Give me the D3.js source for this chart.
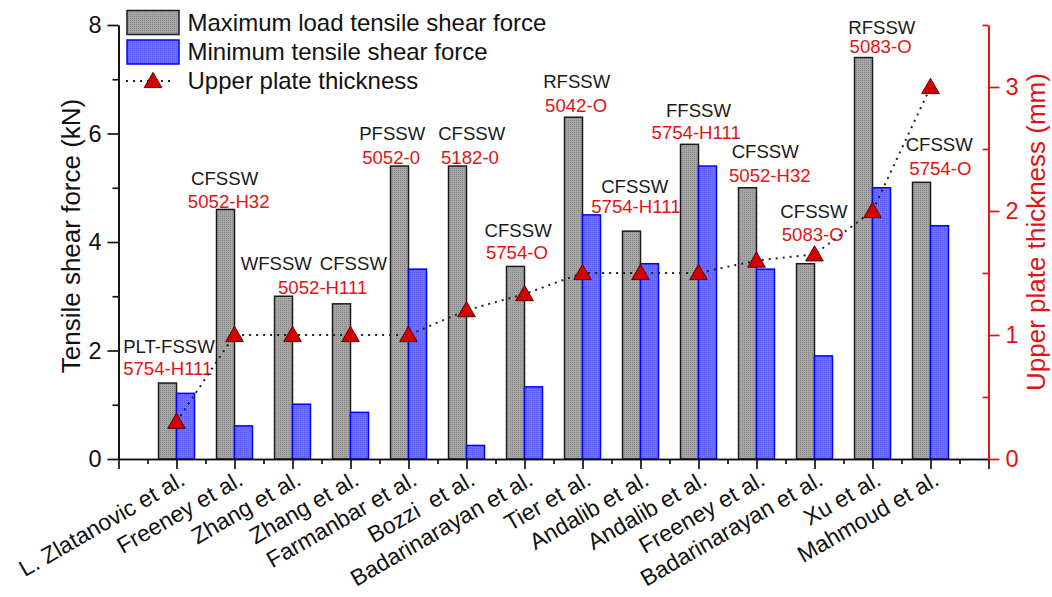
<!DOCTYPE html>
<html>
<head>
<meta charset="utf-8">
<script src="https://cdn.jsdelivr.net/npm/d3@7"></script>
<style>
  html, body { margin: 0; padding: 0; background: #ffffff; }
  svg { display: block; font-family: "Liberation Sans", Arial, Helvetica, sans-serif; }
</style>
</head>
<body>
<svg id="chart" width="1052" height="597"></svg>
<script>
// ---------------- data ----------------
const categories = ["L. Zlatanovic et al.", "Freeney et al.", "Zhang et al.", "Zhang et al.",
  "Farmanbar et al.", "Bozzi  et al.", "Badarinarayan et al.", "Tier et al.", "Andalib et al.",
  "Andalib et al.", "Freeney et al.", "Badarinarayan et al.", "Xu et al.", "Mahmoud et al."];
const maxForce  = [1.40, 4.60, 3.00, 2.86, 5.40, 5.40, 3.55, 6.30, 4.20, 5.80, 5.00, 3.60, 7.40, 5.10];
const minForce  = [1.21, 0.61, 1.01, 0.86, 3.50, 0.25, 1.33, 4.50, 3.60, 5.40, 3.50, 1.90, 5.00, 4.30];
const thickness = [0.30, 1.00, 1.00, 1.00, 1.00, 1.20, 1.33, 1.50, 1.50, 1.50, 1.60, 1.65, 2.00, 3.00];

const leftTicks  = [0, 2, 4, 6, 8];
const rightTicks = [0, 1, 2, 3];
const seriesNames = ["Maximum load tensile shear force", "Minimum tensile shear force", "Upper plate thickness"];
const yTitleLeft  = "Tensile shear force (kN)";
const yTitleRight = "Upper plate thickness (mm)";

// annotation texts, anchored in data space (x: category axis units, y: kN)
const annoText  = ["PLT-FSSW", "5754-H111", "CFSSW", "5052-H32", "WFSSW", "CFSSW", "5052-H111",
  "PFSSW", "5052-0", "CFSSW", "5182-0", "CFSSW", "5754-O", "RFSSW", "5042-O", "CFSSW", "5754-H111",
  "FFSSW", "5754-H111", "CFSSW", "5052-H32", "CFSSW", "5083-O", "RFSSW", "5083-O", "CFSSW", "5754-O"];
const annoKind  = ["m", "a", "m", "a", "m", "m", "a", "m", "a", "m", "a", "m", "a", "m", "a", "m", "a",
  "m", "a", "m", "a", "m", "a", "m", "a", "m", "a"];
const annoX = [0.87, 0.85, 1.83, 1.90, 2.72, 4.05, 3.52, 4.72, 4.70, 6.09, 6.06, 6.89, 6.87, 7.90, 7.89,
  8.90, 8.92, 10.00, 9.96, 11.15, 11.23, 11.99, 11.97, 13.16, 13.14, 14.15, 14.17];
const annoY = [1.96, 1.54, 5.05, 4.63, 3.48, 3.48, 3.04, 5.88, 5.44, 5.88, 5.44, 4.10, 3.68, 6.83, 6.40,
  4.91, 4.54, 6.30, 5.89, 5.55, 5.11, 4.44, 4.02, 7.83, 7.48, 5.68, 5.24];

// ---------------- layout ----------------
const svg = d3.select("#chart");
const RED = "#e01414";
const x  = d3.scaleLinear().domain([0, 15]).range([118.5, 988.5]);
const yL = d3.scaleLinear().domain([0, 8]).range([459, 25]);
const yR = d3.scaleLinear().domain([0, 3.5]).range([459, 25]);
const bw = x(0.31) - x(0);

// patterns to imitate the dotted texture
const defs = svg.append("defs");
function pat(id, base, dot) {
  const p = defs.append("pattern").attr("id", id).attr("patternUnits", "userSpaceOnUse")
    .attr("width", 2).attr("height", 2);
  p.append("rect").attr("width", 2).attr("height", 2).attr("fill", base);
  p.append("rect").attr("width", 1).attr("height", 1).attr("fill", dot);
}
pat("pGray", "#a6a6a6", "#8a8a8a");
pat("pBlue", "#7070ff", "#5656f2");

// ---------------- bars ----------------
const idx = d3.range(categories.length);
svg.append("g").selectAll("rect").data(idx).join("rect")
  .attr("x", i => x(i + 1) - bw).attr("width", bw)
  .attr("y", i => yL(maxForce[i])).attr("height", i => yL(0) - yL(maxForce[i]))
  .attr("fill", "url(#pGray)").attr("stroke", "#1a1a1a").attr("stroke-width", 1.5);
svg.append("g").selectAll("rect").data(idx).join("rect")
  .attr("x", i => x(i + 1)).attr("width", bw)
  .attr("y", i => yL(minForce[i])).attr("height", i => yL(0) - yL(minForce[i]))
  .attr("fill", "url(#pBlue)").attr("stroke", "#0000ff").attr("stroke-width", 1.5);

// ---------------- annotations ----------------
svg.append("g").selectAll("text").data(annoText.map((t, k) => k)).join("text")
  .attr("x", k => x(annoX[k])).attr("y", k => yL(annoY[k]))
  .attr("text-anchor", "middle").attr("font-size", 18.6)
  .attr("fill", k => annoKind[k] === "a" ? RED : "#1a1a1a")
  .text(k => annoText[k]);

// ---------------- thickness line ----------------
const line = d3.line().x(i => x(i + 1)).y(i => yR(thickness[i]));
svg.append("path").datum(idx).attr("d", line).attr("fill", "none")
  .attr("stroke", "#222").attr("stroke-width", 2).attr("stroke-dasharray", "2,5");
const tri = d3.symbol().type(d3.symbolTriangle).size(135);
svg.append("g").selectAll("path").data(idx).join("path")
  .attr("transform", i => `translate(${x(i + 1)},${yR(thickness[i]) + 1.5})`)
  .attr("d", tri).attr("fill", "#d40000").attr("stroke", "#4a0000").attr("stroke-width", 0.9);

// ---------------- axes ----------------
function styleAxis(g, color) {
  g.selectAll("path.domain").attr("stroke", color).attr("stroke-width", 1.7);
  g.selectAll(".tick line").attr("stroke", color).attr("stroke-width", 1.7);
  g.selectAll(".tick text").attr("fill", color);
}
// left
const gl = svg.append("g").attr("transform", `translate(${x(0)},0)`)
  .call(d3.axisLeft(yL).tickValues(leftTicks).tickSize(11).tickSizeOuter(0).tickPadding(6).tickFormat(d3.format("d")));
gl.selectAll(".tick text").attr("font-size", 23.5).attr("font-family", "Liberation Sans, Arial, sans-serif");
styleAxis(gl, "#111");
const glm = svg.append("g").attr("transform", `translate(${x(0)},0)`)
  .call(d3.axisLeft(yL).tickValues([1, 3, 5, 7]).tickSize(6).tickSizeOuter(0).tickFormat(""));
styleAxis(glm, "#111");

// bottom
const gb = svg.append("g").attr("transform", `translate(0,${yL(0)})`)
  .call(d3.axisBottom(x).tickValues(d3.range(0, 16)).tickSize(10).tickSizeOuter(0).tickFormat(""));
styleAxis(gb, "#111");
const gbm = svg.append("g").attr("transform", `translate(0,${yL(0)})`)
  .call(d3.axisBottom(x).tickValues(d3.range(0.5, 15, 1)).tickSize(5).tickSizeOuter(0).tickFormat(""));
styleAxis(gbm, "#111");
svg.append("g").selectAll("text").data(idx).join("text")
  .attr("transform", i => `translate(${x(i + 1) + 10},${yL(0) + 25}) rotate(-30)`)
  .attr("text-anchor", "end").attr("font-size", 23).attr("fill", "#111")
  .style("white-space", "pre")
  .text(i => categories[i]);

// right
const gr = svg.append("g").attr("transform", `translate(${x(15)},0)`)
  .call(d3.axisRight(yR).tickValues(rightTicks).tickSize(11).tickSizeOuter(0).tickPadding(6).tickFormat(d3.format("d")));
gr.selectAll(".tick text").attr("font-size", 23.5).attr("font-family", "Liberation Sans, Arial, sans-serif");
styleAxis(gr, RED);
const grm = svg.append("g").attr("transform", `translate(${x(15)},0)`)
  .call(d3.axisRight(yR).tickValues([0.5, 1.5, 2.5, 3.5]).tickSize(-6).tickSizeOuter(0).tickFormat(""));
styleAxis(grm, RED);

// titles
svg.append("text").attr("transform", `translate(80,236) rotate(-90)`)
  .attr("text-anchor", "middle").attr("font-size", 26).attr("fill", "#111").text(yTitleLeft);
svg.append("text").attr("transform", `translate(1045,232) rotate(-90)`)
  .attr("text-anchor", "middle").attr("font-size", 26).attr("fill", RED).text(yTitleRight);

// ---------------- legend ----------------
const lg = svg.append("g");
lg.append("rect").attr("x", 127).attr("y", 10.5).attr("width", 52).attr("height", 24)
  .attr("fill", "url(#pGray)").attr("stroke", "#1a1a1a").attr("stroke-width", 1.5);
lg.append("rect").attr("x", 127).attr("y", 40).attr("width", 52).attr("height", 24)
  .attr("fill", "url(#pBlue)").attr("stroke", "#0000ff").attr("stroke-width", 1.5);
lg.append("line").attr("x1", 126).attr("x2", 175).attr("y1", 81).attr("y2", 81)
  .attr("stroke", "#222").attr("stroke-width", 2).attr("stroke-dasharray", "2,5");
lg.append("path").attr("transform", "translate(153,82.5)").attr("d", tri)
  .attr("fill", "#d40000").attr("stroke", "#4a0000").attr("stroke-width", 0.9);
lg.selectAll("text.lt").data(seriesNames).join("text").attr("class", "lt")
  .attr("x", 187.5).attr("y", (d, i) => [31, 60, 88.5][i])
  .attr("font-size", 24).attr("fill", "#111").text(d => d);
</script>
</body>
</html>
